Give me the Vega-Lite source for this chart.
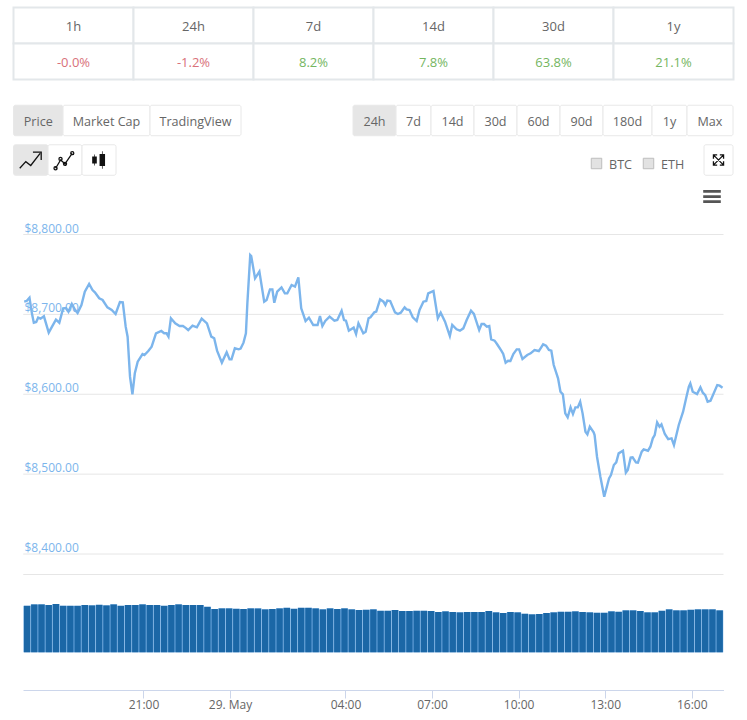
{"$schema":"https://vega.github.io/schema/vega-lite/v6.json","padding":{"left":0,"top":0,"right":0,"bottom":30},"background":"white","spacing":0,"bounds":"flush",
"config":{"view":{"stroke":null},"font":"Open Sans","concat":{"spacing":0}},
"datasets":{
"cells":[
{"period":"1h","row":"head","label":"1h","tone":"neutral"},{"period":"24h","row":"head","label":"24h","tone":"neutral"},{"period":"7d","row":"head","label":"7d","tone":"neutral"},{"period":"14d","row":"head","label":"14d","tone":"neutral"},{"period":"30d","row":"head","label":"30d","tone":"neutral"},{"period":"1y","row":"head","label":"1y","tone":"neutral"},
{"period":"1h","row":"value","label":"-0.0%","tone":"down"},{"period":"24h","row":"value","label":"-1.2%","tone":"down"},{"period":"7d","row":"value","label":"8.2%","tone":"up"},{"period":"14d","row":"value","label":"7.8%","tone":"up"},{"period":"30d","row":"value","label":"63.8%","tone":"up"},{"period":"1y","row":"value","label":"21.1%","tone":"up"}],
"controls":[
{"row":"range","i":0,"w":13.5,"kind":"gap"},{"row":"range","i":1,"w":49.5,"kind":"on","label":"Price"},{"row":"range","i":2,"w":87,"kind":"off","label":"Market Cap"},{"row":"range","i":3,"w":91,"kind":"off","label":"TradingView"},{"row":"range","i":4,"w":112,"kind":"gap"},{"row":"range","i":5,"w":43,"kind":"on","label":"24h"},{"row":"range","i":6,"w":35,"kind":"off","label":"7d"},{"row":"range","i":7,"w":43,"kind":"off","label":"14d"},{"row":"range","i":8,"w":43,"kind":"off","label":"30d"},{"row":"range","i":9,"w":43,"kind":"off","label":"60d"},{"row":"range","i":10,"w":43,"kind":"off","label":"90d"},{"row":"range","i":11,"w":49,"kind":"off","label":"180d"},{"row":"range","i":12,"w":35,"kind":"off","label":"1y"},{"row":"range","i":13,"w":46,"kind":"off","label":"Max"},
{"row":"chart","i":0,"w":13.5,"kind":"gap"},{"row":"chart","i":1,"w":34.5,"kind":"on","icon":"line"},{"row":"chart","i":2,"w":34,"kind":"off","icon":"spline"},{"row":"chart","i":3,"w":34,"kind":"off","icon":"candle"},{"row":"chart","i":4,"w":475,"kind":"gap"},{"row":"chart","i":5,"w":52,"kind":"check","label":"BTC"},{"row":"chart","i":6,"w":61,"kind":"check","label":"ETH"},{"row":"chart","i":7,"w":29,"kind":"off","icon":"expand"},
{"row":"menu","i":0,"w":703,"kind":"gap"},{"row":"menu","i":1,"w":18,"kind":"menu","icon":"menu"}],
"priceGrid":[{"level":8800,"from":"2019-05-28T16:50Z","to":"2019-05-29T17:06Z"},{"level":8700,"from":"2019-05-28T16:50Z","to":"2019-05-29T17:06Z"},{"level":8600,"from":"2019-05-28T16:50Z","to":"2019-05-29T17:06Z"},{"level":8500,"from":"2019-05-28T16:50Z","to":"2019-05-29T17:06Z"},{"level":8400,"from":"2019-05-28T16:50Z","to":"2019-05-29T17:06Z"}],
"price":[
{"t":"2019-05-28T16:52Z","p":8716},{"t":"2019-05-28T16:57Z","p":8716.7},{"t":"2019-05-28T17:03Z","p":8720.9},{"t":"2019-05-28T17:08Z","p":8701.3},{"t":"2019-05-28T17:12Z","p":8689.6},{"t":"2019-05-28T17:17Z","p":8690.5},{"t":"2019-05-28T17:21Z","p":8695.9},{"t":"2019-05-28T17:26Z","p":8694.6},{"t":"2019-05-28T17:33Z","p":8697.6},{"t":"2019-05-28T17:43Z","p":8677.1},{"t":"2019-05-28T17:49Z","p":8683.8},{"t":"2019-05-28T17:58Z","p":8693.4},{"t":"2019-05-28T18:05Z","p":8689.6},{"t":"2019-05-28T18:13Z","p":8707.6},{"t":"2019-05-28T18:19Z","p":8708},{"t":"2019-05-28T18:24Z","p":8703.4},{"t":"2019-05-28T18:31Z","p":8713},{"t":"2019-05-28T18:38Z","p":8705.5},{"t":"2019-05-28T18:43Z","p":8701.7},{"t":"2019-05-28T18:51Z","p":8711.7},{"t":"2019-05-28T18:58Z","p":8728.4},{"t":"2019-05-28T19:07Z","p":8738},{"t":"2019-05-28T19:14Z","p":8730.5},{"t":"2019-05-28T19:19Z","p":8727.6},{"t":"2019-05-28T19:28Z","p":8720.1},{"t":"2019-05-28T19:35Z","p":8718},{"t":"2019-05-28T19:45Z","p":8708.8},{"t":"2019-05-28T19:54Z","p":8705.5},{"t":"2019-05-28T20:02Z","p":8700.5},{"t":"2019-05-28T20:11Z","p":8715.5},{"t":"2019-05-28T20:17Z","p":8715.1},{"t":"2019-05-28T20:23Z","p":8684.6},{"t":"2019-05-28T20:27Z","p":8672.1},{"t":"2019-05-28T20:32Z","p":8622},{"t":"2019-05-28T20:37Z","p":8599.9},{"t":"2019-05-28T20:42Z","p":8626.2},{"t":"2019-05-28T20:48Z","p":8640.8},{"t":"2019-05-28T20:58Z","p":8650.4},{"t":"2019-05-28T21:02Z","p":8649.1},{"t":"2019-05-28T21:10Z","p":8654.2},{"t":"2019-05-28T21:17Z","p":8659.6},{"t":"2019-05-28T21:26Z","p":8676.3},{"t":"2019-05-28T21:37Z","p":8679.2},{"t":"2019-05-28T21:43Z","p":8676.3},{"t":"2019-05-28T21:48Z","p":8676.3},{"t":"2019-05-28T21:52Z","p":8672.1},{"t":"2019-05-28T21:57Z","p":8695.1},{"t":"2019-05-28T22:06Z","p":8688.8},{"t":"2019-05-28T22:15Z","p":8685.5},{"t":"2019-05-28T22:22Z","p":8685.5},{"t":"2019-05-28T22:27Z","p":8683.4},{"t":"2019-05-28T22:33Z","p":8680.4},{"t":"2019-05-28T22:42Z","p":8685.9},{"t":"2019-05-28T22:51Z","p":8683.8},{"t":"2019-05-28T23:01Z","p":8694.6},{"t":"2019-05-28T23:12Z","p":8688.8},{"t":"2019-05-28T23:21Z","p":8672.1},{"t":"2019-05-28T23:27Z","p":8670},{"t":"2019-05-28T23:33Z","p":8654.6},{"t":"2019-05-28T23:43Z","p":8639.6},{"t":"2019-05-28T23:53Z","p":8652.5},{"t":"2019-05-28T23:59Z","p":8643.7},{"t":"2019-05-29T00:03Z","p":8643.7},{"t":"2019-05-29T00:10Z","p":8657.5},{"t":"2019-05-29T00:18Z","p":8656.2},{"t":"2019-05-29T00:22Z","p":8657.1},{"t":"2019-05-29T00:28Z","p":8664.6},{"t":"2019-05-29T00:33Z","p":8676.3},{"t":"2019-05-29T00:36Z","p":8713.8},{"t":"2019-05-29T00:42Z","p":8774.3},{"t":"2019-05-29T00:44Z","p":8773.1},{"t":"2019-05-29T00:52Z","p":8745.1},{"t":"2019-05-29T01:01Z","p":8753.5},{"t":"2019-05-29T01:11Z","p":8715.9},{"t":"2019-05-29T01:16Z","p":8718},{"t":"2019-05-29T01:23Z","p":8731.3},{"t":"2019-05-29T01:28Z","p":8731.3},{"t":"2019-05-29T01:32Z","p":8714.6},{"t":"2019-05-29T01:38Z","p":8728.4},{"t":"2019-05-29T01:47Z","p":8733.8},{"t":"2019-05-29T01:54Z","p":8726.3},{"t":"2019-05-29T01:59Z","p":8726.3},{"t":"2019-05-29T02:08Z","p":8736.8},{"t":"2019-05-29T02:15Z","p":8734.7},{"t":"2019-05-29T02:22Z","p":8746.4},{"t":"2019-05-29T02:28Z","p":8707.6},{"t":"2019-05-29T02:37Z","p":8691.7},{"t":"2019-05-29T02:44Z","p":8695.9},{"t":"2019-05-29T02:53Z","p":8686.7},{"t":"2019-05-29T03:02Z","p":8686.7},{"t":"2019-05-29T03:07Z","p":8698},{"t":"2019-05-29T03:12Z","p":8685.4},{"t":"2019-05-29T03:18Z","p":8691.7},{"t":"2019-05-29T03:27Z","p":8697.1},{"t":"2019-05-29T03:37Z","p":8692.1},{"t":"2019-05-29T03:43Z","p":8692.9},{"t":"2019-05-29T03:52Z","p":8704.6},{"t":"2019-05-29T03:57Z","p":8692.9},{"t":"2019-05-29T04:01Z","p":8692.1},{"t":"2019-05-29T04:07Z","p":8679.6},{"t":"2019-05-29T04:17Z","p":8683.4},{"t":"2019-05-29T04:22Z","p":8675.4},{"t":"2019-05-29T04:27Z","p":8688.8},{"t":"2019-05-29T04:37Z","p":8676.3},{"t":"2019-05-29T04:42Z","p":8678.3},{"t":"2019-05-29T04:48Z","p":8695.1},{"t":"2019-05-29T04:52Z","p":8696.3},{"t":"2019-05-29T05:00Z","p":8702.5},{"t":"2019-05-29T05:04Z","p":8703.4},{"t":"2019-05-29T05:12Z","p":8718.8},{"t":"2019-05-29T05:19Z","p":8715.9},{"t":"2019-05-29T05:23Z","p":8711.7},{"t":"2019-05-29T05:27Z","p":8717.2},{"t":"2019-05-29T05:33Z","p":8716.7},{"t":"2019-05-29T05:43Z","p":8702.5},{"t":"2019-05-29T05:49Z","p":8700.5},{"t":"2019-05-29T05:55Z","p":8702.1},{"t":"2019-05-29T06:03Z","p":8708.8},{"t":"2019-05-29T06:07Z","p":8706.3},{"t":"2019-05-29T06:13Z","p":8705.5},{"t":"2019-05-29T06:20Z","p":8696.3},{"t":"2019-05-29T06:28Z","p":8691.7},{"t":"2019-05-29T06:34Z","p":8705.5},{"t":"2019-05-29T06:42Z","p":8715.9},{"t":"2019-05-29T06:48Z","p":8716.7},{"t":"2019-05-29T06:52Z","p":8726.3},{"t":"2019-05-29T07:03Z","p":8729.3},{"t":"2019-05-29T07:12Z","p":8695.1},{"t":"2019-05-29T07:18Z","p":8702.1},{"t":"2019-05-29T07:27Z","p":8690.9},{"t":"2019-05-29T07:37Z","p":8672.9},{"t":"2019-05-29T07:42Z","p":8686.7},{"t":"2019-05-29T07:51Z","p":8681.3},{"t":"2019-05-29T07:58Z","p":8679.6},{"t":"2019-05-29T08:05Z","p":8682.5},{"t":"2019-05-29T08:12Z","p":8692.9},{"t":"2019-05-29T08:21Z","p":8704.6},{"t":"2019-05-29T08:27Z","p":8700.5},{"t":"2019-05-29T08:38Z","p":8680.4},{"t":"2019-05-29T08:43Z","p":8687.9},{"t":"2019-05-29T08:48Z","p":8687.9},{"t":"2019-05-29T08:54Z","p":8684.6},{"t":"2019-05-29T08:59Z","p":8685.4},{"t":"2019-05-29T09:03Z","p":8668.7},{"t":"2019-05-29T09:10Z","p":8667.1},{"t":"2019-05-29T09:15Z","p":8662.9},{"t":"2019-05-29T09:24Z","p":8654.5},{"t":"2019-05-29T09:28Z","p":8650.4},{"t":"2019-05-29T09:33Z","p":8639.5},{"t":"2019-05-29T09:38Z","p":8642},{"t":"2019-05-29T09:43Z","p":8641.6},{"t":"2019-05-29T09:49Z","p":8650.4},{"t":"2019-05-29T09:56Z","p":8656.2},{"t":"2019-05-29T10:01Z","p":8656.2},{"t":"2019-05-29T10:08Z","p":8644.1},{"t":"2019-05-29T10:18Z","p":8649.1},{"t":"2019-05-29T10:25Z","p":8651.2},{"t":"2019-05-29T10:33Z","p":8655.4},{"t":"2019-05-29T10:42Z","p":8654.1},{"t":"2019-05-29T10:51Z","p":8662.5},{"t":"2019-05-29T10:57Z","p":8660.8},{"t":"2019-05-29T11:03Z","p":8655.4},{"t":"2019-05-29T11:08Z","p":8654.5},{"t":"2019-05-29T11:13Z","p":8636.6},{"t":"2019-05-29T11:22Z","p":8619.9},{"t":"2019-05-29T11:27Z","p":8603.2},{"t":"2019-05-29T11:32Z","p":8599.9},{"t":"2019-05-29T11:37Z","p":8576.1},{"t":"2019-05-29T11:42Z","p":8571.1},{"t":"2019-05-29T11:48Z","p":8583.6},{"t":"2019-05-29T11:53Z","p":8575.2},{"t":"2019-05-29T11:58Z","p":8583.6},{"t":"2019-05-29T12:03Z","p":8583.6},{"t":"2019-05-29T12:08Z","p":8590.7},{"t":"2019-05-29T12:13Z","p":8576.1},{"t":"2019-05-29T12:19Z","p":8553.1},{"t":"2019-05-29T12:23Z","p":8549.8},{"t":"2019-05-29T12:28Z","p":8559.4},{"t":"2019-05-29T12:36Z","p":8552.3},{"t":"2019-05-29T12:38Z","p":8548.9},{"t":"2019-05-29T12:43Z","p":8521.8},{"t":"2019-05-29T12:50Z","p":8496.8},{"t":"2019-05-29T12:58Z","p":8471.7},{"t":"2019-05-29T13:08Z","p":8494.7},{"t":"2019-05-29T13:12Z","p":8498.9},{"t":"2019-05-29T13:18Z","p":8511.4},{"t":"2019-05-29T13:23Z","p":8514.7},{"t":"2019-05-29T13:28Z","p":8526},{"t":"2019-05-29T13:37Z","p":8529.3},{"t":"2019-05-29T13:43Z","p":8501.8},{"t":"2019-05-29T13:47Z","p":8505.1},{"t":"2019-05-29T13:53Z","p":8520.6},{"t":"2019-05-29T13:57Z","p":8521},{"t":"2019-05-29T14:04Z","p":8514.7},{"t":"2019-05-29T14:08Z","p":8514.3},{"t":"2019-05-29T14:16Z","p":8528.1},{"t":"2019-05-29T14:20Z","p":8531},{"t":"2019-05-29T14:29Z","p":8529.3},{"t":"2019-05-29T14:34Z","p":8534.3},{"t":"2019-05-29T14:39Z","p":8544.8},{"t":"2019-05-29T14:43Z","p":8548.9},{"t":"2019-05-29T14:48Z","p":8564.8},{"t":"2019-05-29T14:53Z","p":8559.4},{"t":"2019-05-29T14:57Z","p":8562.3},{"t":"2019-05-29T15:04Z","p":8550.2},{"t":"2019-05-29T15:11Z","p":8543.9},{"t":"2019-05-29T15:18Z","p":8544.8},{"t":"2019-05-29T15:23Z","p":8536.4},{"t":"2019-05-29T15:33Z","p":8561.5},{"t":"2019-05-29T15:42Z","p":8578.2},{"t":"2019-05-29T15:49Z","p":8596.9},{"t":"2019-05-29T15:54Z","p":8609.5},{"t":"2019-05-29T15:57Z","p":8613.6},{"t":"2019-05-29T16:02Z","p":8603.2},{"t":"2019-05-29T16:11Z","p":8600.3},{"t":"2019-05-29T16:18Z","p":8608.6},{"t":"2019-05-29T16:23Z","p":8601.9},{"t":"2019-05-29T16:28Z","p":8599},{"t":"2019-05-29T16:33Z","p":8590.7},{"t":"2019-05-29T16:39Z","p":8591.9},{"t":"2019-05-29T16:53Z","p":8611.5},{"t":"2019-05-29T16:58Z","p":8610.7},{"t":"2019-05-29T17:04Z","p":8608.2}],
"volume":[
{"t":"2019-05-28T16:58Z","v":23.3},{"t":"2019-05-28T17:13Z","v":24},{"t":"2019-05-28T17:28Z","v":24},{"t":"2019-05-28T17:43Z","v":23.7},{"t":"2019-05-28T17:58Z","v":24.2},{"t":"2019-05-28T18:13Z","v":23.3},{"t":"2019-05-28T18:28Z","v":23.3},{"t":"2019-05-28T18:43Z","v":23.3},{"t":"2019-05-28T18:58Z","v":23.7},{"t":"2019-05-28T19:13Z","v":23.5},{"t":"2019-05-28T19:28Z","v":23.8},{"t":"2019-05-28T19:43Z","v":23.5},{"t":"2019-05-28T19:58Z","v":24},{"t":"2019-05-28T20:13Z","v":23.3},{"t":"2019-05-28T20:28Z","v":23.7},{"t":"2019-05-28T20:43Z","v":23.7},{"t":"2019-05-28T20:58Z","v":24},{"t":"2019-05-28T21:13Z","v":23.7},{"t":"2019-05-28T21:28Z","v":23.7},{"t":"2019-05-28T21:43Z","v":23.3},{"t":"2019-05-28T21:58Z","v":23.7},{"t":"2019-05-28T22:13Z","v":24},{"t":"2019-05-28T22:28Z","v":23.7},{"t":"2019-05-28T22:43Z","v":23.7},{"t":"2019-05-28T22:58Z","v":23.7},{"t":"2019-05-28T23:13Z","v":22.8},{"t":"2019-05-28T23:28Z","v":21.7},{"t":"2019-05-28T23:43Z","v":22},{"t":"2019-05-28T23:58Z","v":22},{"t":"2019-05-29T00:13Z","v":21.8},{"t":"2019-05-29T00:28Z","v":21.7},{"t":"2019-05-29T00:43Z","v":22},
{"t":"2019-05-29T00:58Z","v":22},{"t":"2019-05-29T01:13Z","v":21.5},{"t":"2019-05-29T01:28Z","v":21.7},{"t":"2019-05-29T01:43Z","v":22},{"t":"2019-05-29T01:58Z","v":22.3},{"t":"2019-05-29T02:13Z","v":21.8},{"t":"2019-05-29T02:28Z","v":22.3},{"t":"2019-05-29T02:43Z","v":22.3},{"t":"2019-05-29T02:58Z","v":22},{"t":"2019-05-29T03:13Z","v":21.5},{"t":"2019-05-29T03:28Z","v":22},{"t":"2019-05-29T03:43Z","v":21.7},{"t":"2019-05-29T03:58Z","v":22},{"t":"2019-05-29T04:13Z","v":21.5},{"t":"2019-05-29T04:28Z","v":21.2},{"t":"2019-05-29T04:43Z","v":21.3},{"t":"2019-05-29T04:58Z","v":21.5},{"t":"2019-05-29T05:13Z","v":20.8},{"t":"2019-05-29T05:28Z","v":20.8},{"t":"2019-05-29T05:43Z","v":21.2},{"t":"2019-05-29T05:58Z","v":20.7},{"t":"2019-05-29T06:13Z","v":20.7},{"t":"2019-05-29T06:28Z","v":20.8},{"t":"2019-05-29T06:43Z","v":20.8},{"t":"2019-05-29T06:58Z","v":20.7},{"t":"2019-05-29T07:13Z","v":20.2},{"t":"2019-05-29T07:28Z","v":20.5},{"t":"2019-05-29T07:43Z","v":20.2},{"t":"2019-05-29T07:58Z","v":20},{"t":"2019-05-29T08:13Z","v":20.2},{"t":"2019-05-29T08:28Z","v":20.2},{"t":"2019-05-29T08:43Z","v":20.2},{"t":"2019-05-29T08:58Z","v":20.7},{"t":"2019-05-29T09:13Z","v":20},
{"t":"2019-05-29T09:28Z","v":19.7},{"t":"2019-05-29T09:43Z","v":20.2},{"t":"2019-05-29T09:58Z","v":20},{"t":"2019-05-29T10:13Z","v":19.3},{"t":"2019-05-29T10:28Z","v":19},{"t":"2019-05-29T10:43Z","v":19.2},{"t":"2019-05-29T10:58Z","v":19.7},{"t":"2019-05-29T11:13Z","v":20},{"t":"2019-05-29T11:28Z","v":20.3},{"t":"2019-05-29T11:43Z","v":20.3},{"t":"2019-05-29T11:58Z","v":20.5},{"t":"2019-05-29T12:13Z","v":20.2},{"t":"2019-05-29T12:28Z","v":20},{"t":"2019-05-29T12:43Z","v":19.8},{"t":"2019-05-29T12:58Z","v":19.8},{"t":"2019-05-29T13:13Z","v":20.5},{"t":"2019-05-29T13:28Z","v":20.3},{"t":"2019-05-29T13:43Z","v":21},{"t":"2019-05-29T13:58Z","v":21},{"t":"2019-05-29T14:13Z","v":20.7},{"t":"2019-05-29T14:28Z","v":20},{"t":"2019-05-29T14:43Z","v":20},{"t":"2019-05-29T14:58Z","v":20.8},{"t":"2019-05-29T15:13Z","v":21.5},{"t":"2019-05-29T15:28Z","v":21},{"t":"2019-05-29T15:43Z","v":21},{"t":"2019-05-29T15:58Z","v":21.3},{"t":"2019-05-29T16:13Z","v":21.5},{"t":"2019-05-29T16:28Z","v":21.5},{"t":"2019-05-29T16:43Z","v":21.5},{"t":"2019-05-29T16:58Z","v":21}]
},
"vconcat":[
{"width":747,"height":87,"data":{"name":"cells"},
"encoding":{"x":{"field":"period","type":"nominal","sort":["1h","24h","7d","14d","30d","1y"],"axis":null,"scale":{"paddingInner":0,"paddingOuter":0.1125}},"y":{"field":"row","type":"nominal","sort":["head","value"],"axis":null,"scale":{"paddingInner":0,"paddingOuter":0.2083}}},
"layer":[
{"mark":{"type":"rect","fill":"white","stroke":"#e3e7ea","strokeWidth":2}},
{"mark":{"type":"text","fontSize":13,"dy":1.5},"encoding":{"text":{"field":"label"},"color":{"field":"tone","type":"nominal","legend":null,"scale":{"domain":["neutral","down","up"],"range":["#666666","#d9717a","#74b65f"]}}}}
]},
{"width":747,"height":146,"data":{"name":"controls"},
"transform":[{"stack":"w","groupby":["row"],"sort":[{"field":"i","order":"ascending"}],"as":["x0","x1"]},{"filter":"datum.kind!='gap'"},{"calculate":"(datum.x0+datum.x1)/2","as":"xm"}],
"encoding":{"y":{"field":"row","type":"nominal","axis":null,"sort":["range","chart","menu"],"scale":{"domain":["range","chart","menu"],"paddingInner":0,"paddingOuter":0.348}}},
"layer":[
{"transform":[{"filter":"datum.kind=='on'||datum.kind=='off'"}],"mark":{"type":"bar","height":30.5,"stroke":"#e8e8e8","strokeWidth":1,"cornerRadius":2},
"encoding":{"x":{"field":"x0","type":"quantitative","axis":null,"scale":{"domain":[0,747],"nice":false,"zero":false,"padding":0}},"x2":{"field":"x1"},"color":{"field":"kind","type":"nominal","legend":null,"scale":{"domain":["on","off"],"range":["#e6e6e6","#ffffff"]}}}},
{"transform":[{"filter":"datum.row=='range'"}],"mark":{"type":"text","fontSize":12.6,"color":"#666666","dy":1.5},
"encoding":{"x":{"field":"xm","type":"quantitative","axis":null},"text":{"field":"label"}}},
{"transform":[{"filter":"datum.kind=='check'"}],"mark":{"type":"point","shape":"square","filled":true,"size":110,"fill":"#e2e2e2","stroke":"#bdbdbd","strokeWidth":1,"opacity":1,"xOffset":5.5,"yOffset":3.5},
"encoding":{"x":{"field":"x0","type":"quantitative","axis":null}}},
{"transform":[{"filter":"datum.kind=='check'"}],"mark":{"type":"text","fontSize":12.6,"color":"#666666","align":"left","dx":18,"dy":5},
"encoding":{"x":{"field":"x0","type":"quantitative","axis":null},"text":{"field":"label"}}},
{"transform":[{"filter":"datum.icon=='line'||datum.icon=='spline'||datum.icon=='expand'"}],"mark":{"type":"point","filled":false,"size":484,"stroke":"#111111","strokeWidth":1.3,"opacity":1},
"encoding":{"x":{"field":"xm","type":"quantitative","axis":null},"shape":{"field":"icon","type":"nominal","legend":null,"scale":{"domain":["line","spline","expand"],"range":["M-1,0.75L-0.45,0.15L0,0.5L0.85,-0.6M0.2,-0.72L0.95,-0.72L0.95,0","M-0.85,0.75L-0.4,0L0,0.35L0.65,-0.6M-0.72,0.75a0.14,0.14 0 1,0 -0.28,0a0.14,0.14 0 1,0 0.28,0M-0.27,-0.1a0.14,0.14 0 1,0 -0.28,0a0.14,0.14 0 1,0 0.28,0M0.14,0.35a0.14,0.14 0 1,0 -0.28,0a0.14,0.14 0 1,0 0.28,0M0.8,-0.62a0.14,0.14 0 1,0 -0.28,0a0.14,0.14 0 1,0 0.28,0","M-0.42,-0.42L0.42,0.42M-0.42,0.42L0.42,-0.42M-0.46,-0.12L-0.46,-0.46L-0.12,-0.46M0.12,-0.46L0.46,-0.46L0.46,-0.12M-0.46,0.12L-0.46,0.46L-0.12,0.46M0.12,0.46L0.46,0.46L0.46,0.12"]}}}},
{"transform":[{"filter":"datum.icon=='candle'"}],"mark":{"type":"point","filled":true,"size":484,"color":"#111111","opacity":1,"shape":"M-0.62,-0.32H-0.2V0.32H-0.62ZM-0.44,-0.5H-0.38V0.5H-0.44ZM0.05,-0.55H0.55V0.55H0.05ZM0.27,-0.8H0.33V0.8H0.27Z"},
"encoding":{"x":{"field":"xm","type":"quantitative","axis":null}}},
{"transform":[{"filter":"datum.icon=='menu'"}],"mark":{"type":"point","filled":true,"size":484,"color":"#555555","opacity":1,"yOffset":-3,"shape":"M-0.8,-0.58H0.8V-0.33H-0.8ZM-0.8,-0.12H0.8V0.13H-0.8ZM-0.8,0.34H0.8V0.59H-0.8Z"},
"encoding":{"x":{"field":"xm","type":"quantitative","axis":null}}}
],"resolve":{"scale":{"color":"independent","shape":"independent"}}},
{"width":747,"height":337,
"layer":[
{"data":{"name":"priceGrid"},"mark":{"type":"rule","color":"#e6e6e6","strokeWidth":1},
"encoding":{"x":{"field":"from","type":"temporal","axis":null,"scale":{"type":"utc","domain":[{"year":2019,"month":5,"date":28,"hours":16,"minutes":49,"seconds":30,"utc":true},{"year":2019,"month":5,"date":29,"hours":17,"minutes":6,"utc":true}],"range":[23,723.5]}},"x2":{"field":"to"},
"y":{"field":"level","type":"quantitative","scale":{"domain":[8400,8800],"range":[321,1.5],"nice":false,"zero":false},
"axis":{"title":null,"orient":"left","values":[8400,8500,8600,8700,8800],"format":"$,.2f","grid":false,"ticks":false,"domain":false,"labelAlign":"left","labelPadding":-24,"labelOffset":-6.5,"labelColor":"#7cb5ec","labelFontSize":12,"labelFont":"Open Sans"}}}},
{"data":{"name":"price"},"mark":{"type":"line","color":"#7cb5ec","strokeWidth":2.4,"interpolate":"linear"},
"encoding":{"x":{"field":"t","type":"temporal","axis":null,"scale":{"type":"utc","domain":[{"year":2019,"month":5,"date":28,"hours":16,"minutes":49,"seconds":30,"utc":true},{"year":2019,"month":5,"date":29,"hours":17,"minutes":6,"utc":true}],"range":[23,723.5]}},
"y":{"field":"p","type":"quantitative","title":"Price"}}}
]},
{"width":747,"height":120,
"encoding":{"x":{"type":"temporal","scale":{"type":"utc","padding":0,"domain":[{"year":2019,"month":5,"date":28,"hours":16,"minutes":49,"seconds":30,"utc":true},{"year":2019,"month":5,"date":29,"hours":17,"minutes":6,"utc":true}],"range":[23,723.5]},
"axis":{"title":null,"grid":false,"values":[{"year":2019,"month":5,"date":28,"hours":21,"utc":true},{"year":2019,"month":5,"date":29,"hours":0,"utc":true},{"year":2019,"month":5,"date":29,"hours":4,"utc":true},{"year":2019,"month":5,"date":29,"hours":7,"utc":true},{"year":2019,"month":5,"date":29,"hours":10,"utc":true},{"year":2019,"month":5,"date":29,"hours":13,"utc":true},{"year":2019,"month":5,"date":29,"hours":16,"utc":true}],"labelExpr":"utcFormat(datum.value,'%H:%M')=='00:00'?'29. May':utcFormat(datum.value,'%H:%M')","tickSize":8,"tickColor":"#ccd6eb","domainColor":"#ccd6eb","labelColor":"#666666","labelFontSize":12,"labelFont":"Open Sans","labelPadding":1,"labelOverlap":false,"labelFlush":false}}},
"layer":[
{"data":{"values":[{"level":39,"from":"2019-05-28T16:50Z","to":"2019-05-29T17:06Z"}]},"mark":{"type":"rule","color":"#e6e6e6","strokeWidth":1},
"encoding":{"x":{"field":"from"},"x2":{"field":"to"},
"y":{"field":"level","type":"quantitative","axis":null,"scale":{"domain":[0,39],"range":[82.3,4.5],"nice":false}}}},
{"data":{"name":"volume"},"mark":{"type":"bar","color":"#7cb5ec","width":7.2},
"encoding":{"x":{"field":"t"},"y":{"field":"v","type":"quantitative","axis":null}}},
{"data":{"name":"volume"},"mark":{"type":"bar","color":"#1b67a6","width":6.4},
"encoding":{"x":{"field":"t"},"y":{"field":"v","type":"quantitative","axis":null}}}
]}
]}
